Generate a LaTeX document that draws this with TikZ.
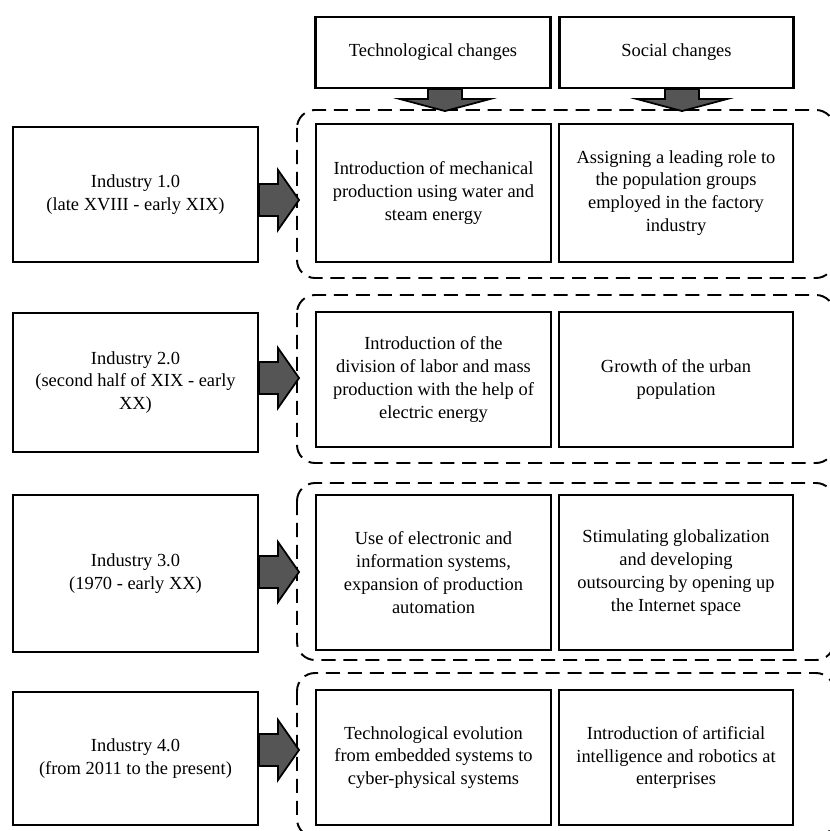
\documentclass[tikz,border=0pt]{standalone}
\usepackage{fontspec}
\setmainfont{Liberation Serif}
\usepackage{tikz}
\usetikzlibrary{arrows.meta, positioning, calc}

\definecolor{arrowgray}{RGB}{85,85,85}

\begin{document}
\begin{tikzpicture}[x=0.02cm, y=-0.02cm,
    box/.style={draw, line width=1.2pt, align=center, inner sep=2pt,
        font=\fontsize{10.5}{13}\selectfont},
    leftbox/.style={box, minimum width=4.9cm},
    techbox/.style={box, minimum width=4.7cm},
    socbox/.style={box, minimum width=4.68cm},
    group/.style={draw, line width=1.1pt, dash pattern=on 8pt off 4.5pt, rounded corners=0.36cm},
    fatarrow/.style={draw, line width=1pt, fill=arrowgray, line join=miter}]
    \useasboundingbox (0,0) rectangle (829,831);

    % Column headers
    \node[techbox, minimum height=1.42cm] (tech) at (433,52.5) {Technological changes};
    \node[socbox, minimum height=1.42cm] (social) at (676.5,52.5) {Social changes};

    % Dashed groups
    \draw[group] (297,110) rectangle (834,278);
    \draw[group] (297,295) rectangle (834,463);
    \draw[group] (297,483) rectangle (834,660);
    \draw[group] (297,673) rectangle (834,837);

    % Industries
    \node[leftbox, minimum height=2.7cm] (ind1) at (135.5,194.5) {Industry 1.0\\(late XVIII - early XIX)};
    \node[leftbox, minimum height=2.78cm] (ind2) at (135.5,382.5) {Industry 2.0\\(second half of XIX - early\\XX)};
    \node[leftbox, minimum height=3.14cm] (ind3) at (135.5,573.5) {Industry 3.0\\(1970 - early XX)};
    \node[leftbox, minimum height=2.66cm] (ind4) at (135.5,758.5) {Industry 4.0\\(from 2011 to the present)};

    % Technological changes
    \node[techbox, minimum height=2.76cm] (tech1) at (433.5,193) {Introduction of mechanical\\production using water and\\steam energy};
    \node[techbox, minimum height=2.7cm] (tech2) at (433.5,379.5) {Introduction of the\\division of labor and mass\\production with the help of\\electric energy};
    \node[techbox, minimum height=3.1cm] (tech3) at (433.5,572.5) {Use of electronic and\\information systems,\\expansion of production\\automation};
    \node[techbox, minimum height=2.7cm] (tech4) at (433.5,757.5) {Technological evolution\\from embedded systems to\\cyber-physical systems};

    % Social changes
    \node[socbox, minimum height=2.76cm] (soc1) at (676,193) {Assigning a leading role to\\the population groups\\employed in the factory\\industry};
    \node[socbox, minimum height=2.7cm] (soc2) at (676,379.5) {Growth of the urban\\population};
    \node[socbox, minimum height=3.1cm] (soc3) at (676,572.5) {Stimulating globalization\\and developing\\outsourcing by opening up\\the Internet space};
    \node[socbox, minimum height=2.7cm] (soc4) at (676,757.5) {Introduction of artificial\\intelligence and robotics at\\enterprises};

    % Arrows down
    \draw[fatarrow] (tech.south -| 428,0) -- ++(0,10) -- ++(-28,0) -- ++(45,12) -- ++(45,-12) -- ++(-28,0) -- ++(0,-10) -- cycle;
    \draw[fatarrow] (social.south -| 665,0) -- ++(0,10) -- ++(-28,0) -- ++(45,12) -- ++(45,-12) -- ++(-28,0) -- ++(0,-10) -- cycle;

    % Arrows right
    \draw[fatarrow] (ind1.east |- 0,184) -- ++(19,0) -- ++(0,-14) -- ++(21,30) -- ++(-21,30) -- ++(0,-14) -- ++(-19,0) -- cycle;
    \draw[fatarrow] (ind2.east |- 0,362) -- ++(19,0) -- ++(0,-14) -- ++(21,30) -- ++(-21,30) -- ++(0,-14) -- ++(-19,0) -- cycle;
    \draw[fatarrow] (ind3.east |- 0,556) -- ++(19,0) -- ++(0,-14) -- ++(21,30) -- ++(-21,30) -- ++(0,-14) -- ++(-19,0) -- cycle;
    \draw[fatarrow] (ind4.east |- 0,734) -- ++(19,0) -- ++(0,-14) -- ++(21,30) -- ++(-21,30) -- ++(0,-14) -- ++(-19,0) -- cycle;
\end{tikzpicture}
\end{document}
